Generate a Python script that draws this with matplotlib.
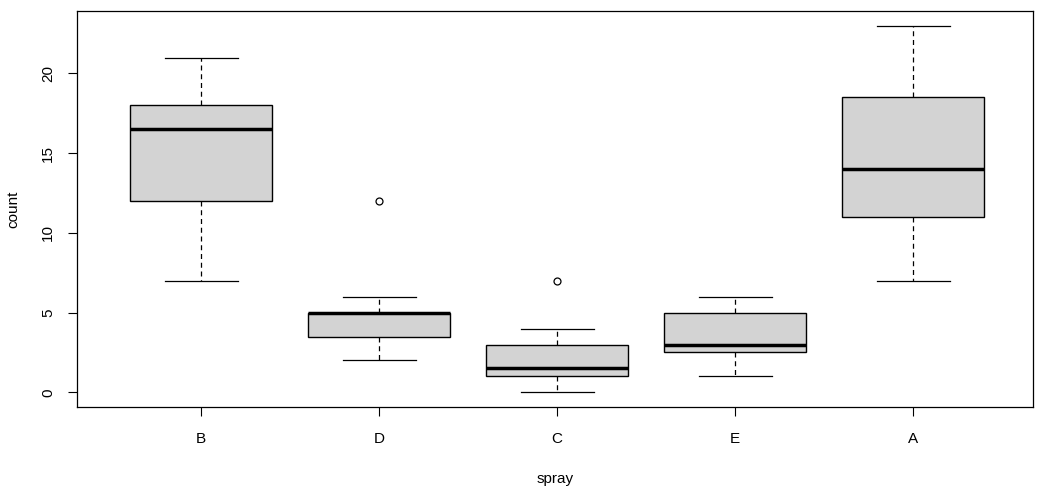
import matplotlib
matplotlib.use("Agg")
import matplotlib.pyplot as plt

plt.rcParams['font.family'] = ['Liberation Sans', 'DejaVu Sans']

# InsectSprays, reordered by median
sprays = ['B', 'D', 'C', 'E', 'A']
whislo = [7, 2, 0, 1, 7]
q1 = [12, 3.5, 1, 2.5, 11]
med = [16.5, 5, 1.5, 3, 14]
q3 = [18, 5, 3, 5, 18.5]
whishi = [21, 6, 4, 6, 23]
fliers = [[], [12], [7], [], []]


def box_stats():
    stats = []
    for i, name in enumerate(sprays):
        stats.append(dict(label=name, whislo=whislo[i], q1=q1[i], med=med[i],
                          q3=q3[i], whishi=whishi[i], fliers=fliers[i]))
    return stats


fig = plt.figure(figsize=(10.44, 4.91), dpi=100)
ax = fig.add_axes([76.5 / 1044, 84 / 491, 956.5 / 1044, 396 / 491])

ax.bxp(box_stats(), positions=range(1, 6), widths=0.8, patch_artist=True,
       boxprops=dict(facecolor='#d3d3d3', edgecolor='black', linewidth=1),
       medianprops=dict(color='black', linewidth=2.5),
       whiskerprops=dict(color='black', linestyle=(0, (4, 3)), linewidth=0.9),
       capprops=dict(color='black', linewidth=0.9),
       capwidths=0.41,
       flierprops=dict(marker='o', markerfacecolor='none', markeredgecolor='black',
                       markersize=5, markeredgewidth=0.9))

ax.set_xlim(0.3, 5.674)
ax.set_ylim(-0.92, 23.92)
ax.set_yticks([0, 5, 10, 15, 20])
ax.set_yticklabels(['0', '5', '10', '15', '20'], rotation=90, va='center')
ax.tick_params(axis='both', direction='out', length=6.5, labelsize=11, width=0.8)
ax.tick_params(axis='x', pad=11.5)
ax.tick_params(axis='y', pad=9)
for s in ax.spines.values():
    s.set_linewidth(0.9)

ax.set_xlabel('spray', fontsize=11, labelpad=19)
ax.set_ylabel('count', fontsize=11, labelpad=15)

fig.savefig('out.png', dpi=100)
